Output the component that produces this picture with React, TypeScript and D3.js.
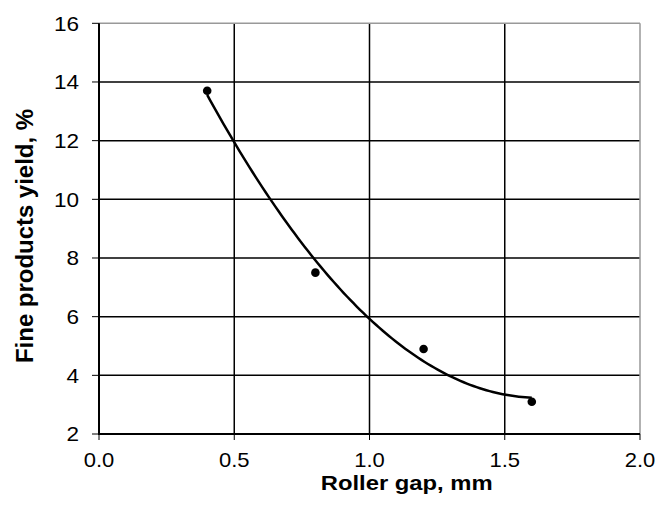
import React from "react";
import * as d3 from "d3";

const rollerGap = [0.4, 0.8, 1.2, 1.6];
const fineYield = [13.7, 7.5, 4.9, 3.1];
const xTicks = [0, 0.5, 1.0, 1.5, 2.0];
const yTicks = [2, 4, 6, 8, 10, 12, 14, 16];

const W = 657;
const H = 505;
const left = 99;
const right = 640;
const top = 23.3;
const bottom = 434;

// Quadratic least-squares trendline (as in spreadsheet polynomial trendline, order 2)
function quadFit(xs: number[], ys: number[]) {
  const n = xs.length;
  const s = [0, 0, 0, 0, 0];
  const t = [0, 0, 0];
  for (let i = 0; i < n; i++) {
    for (let k = 0; k < 5; k++) s[k] += Math.pow(xs[i], k);
    for (let k = 0; k < 3; k++) t[k] += ys[i] * Math.pow(xs[i], k);
  }
  const A = [
    [s[0], s[1], s[2], t[0]],
    [s[1], s[2], s[3], t[1]],
    [s[2], s[3], s[4], t[2]],
  ];
  for (let c = 0; c < 3; c++) {
    let p = c;
    for (let r = c + 1; r < 3; r++) if (Math.abs(A[r][c]) > Math.abs(A[p][c])) p = r;
    [A[c], A[p]] = [A[p], A[c]];
    for (let r = 0; r < 3; r++) {
      if (r === c) continue;
      const f = A[r][c] / A[c][c];
      for (let k = c; k < 4; k++) A[r][k] -= f * A[c][k];
    }
  }
  const coef = [A[0][3] / A[0][0], A[1][3] / A[1][1], A[2][3] / A[2][2]];
  return (x: number) => coef[0] + coef[1] * x + coef[2] * x * x;
}

export default function App() {
  const x = d3.scaleLinear().domain([0, 2]).range([left, right]);
  const y = d3.scaleLinear().domain([2, 16]).range([bottom, top]);
  const f = quadFit(rollerGap, fineYield);
  const xmin = d3.min(rollerGap) as number;
  const xmax = d3.max(rollerGap) as number;
  const samples = d3.range(0, 101).map((i) => xmin + ((xmax - xmin) * i) / 100);
  const line = d3
    .line<number>()
    .x((d) => x(d))
    .y((d) => y(f(d)))
    .curve(d3.curveLinear);

  const font = "Arial, 'Liberation Sans', Helvetica, sans-serif";

  return (
    <svg
      width={W}
      height={H}
      style={{ position: "absolute", left: 0, top: 0, background: "#fff" }}
      fontFamily={font}
    >
      <rect x={0} y={0} width={W} height={H} fill="#fff" />
      {/* horizontal gridlines */}
      {yTicks.map((v) =>
        v === 2 || v === 16 ? null : (
          <line key={"hg" + v} x1={left} x2={right} y1={y(v)} y2={y(v)} stroke="#000" strokeWidth={1.5} />
        )
      )}
      {/* vertical gridlines */}
      {xTicks.map((v) =>
        v === 0 || v === 2 ? null : (
          <line key={"vg" + v} x1={x(v)} x2={x(v)} y1={top} y2={bottom} stroke="#000" strokeWidth={1.5} />
        )
      )}
      {/* top and right border */}
      <line x1={left} x2={right} y1={top} y2={top} stroke="#999" strokeWidth={1.5} />
      <line x1={right} x2={right} y1={top} y2={bottom} stroke="#999" strokeWidth={1.5} />
      {/* axes */}
      <line x1={left} x2={left} y1={top} y2={bottom + 1} stroke="#000" strokeWidth={2} />
      <line x1={left} x2={right} y1={bottom} y2={bottom} stroke="#000" strokeWidth={2} />
      {/* y ticks */}
      {yTicks.map((v) => (
        <g key={"yt" + v}>
          <line x1={left - 7} x2={left} y1={y(v)} y2={y(v)} stroke="#000" strokeWidth={1} />
          <text
            transform={`translate(${left - 20},${y(v) + 7.3}) scale(1.1,1)`}
            textAnchor="end"
            fontSize={20.5}
            fill="#000"
          >
            {v}
          </text>
        </g>
      ))}
      {/* x ticks */}
      {xTicks.map((v) => (
        <g key={"xt" + v}>
          <line x1={x(v)} x2={x(v)} y1={bottom} y2={bottom + 6} stroke="#000" strokeWidth={1} />
          <text
            transform={`translate(${x(v)},467) scale(1.1,1)`}
            textAnchor="middle"
            fontSize={20}
            fill="#000"
          >
            {v.toFixed(1)}
          </text>
        </g>
      ))}
      {/* trendline */}
      <path d={line(samples) || ""} fill="none" stroke="#000" strokeWidth={2.5} />
      {/* points */}
      {rollerGap.map((g, i) => (
        <circle key={"p" + i} cx={x(g)} cy={y(fineYield[i])} r={4.3} fill="#000" />
      ))}
      {/* axis titles */}
      <text
        x={406.7}
        y={490}
        textAnchor="middle"
        fontWeight="bold"
        fontSize={20}
        textLength={172}
        lengthAdjust="spacingAndGlyphs"
        fill="#000"
      >
        Roller gap, mm
      </text>
      <text
        transform={`translate(33,236) rotate(-90)`}
        textAnchor="middle"
        fontWeight="bold"
        fontSize={24}
        textLength={254}
        lengthAdjust="spacingAndGlyphs"
        fill="#000"
      >
        Fine products yield, %
      </text>
    </svg>
  );
}
